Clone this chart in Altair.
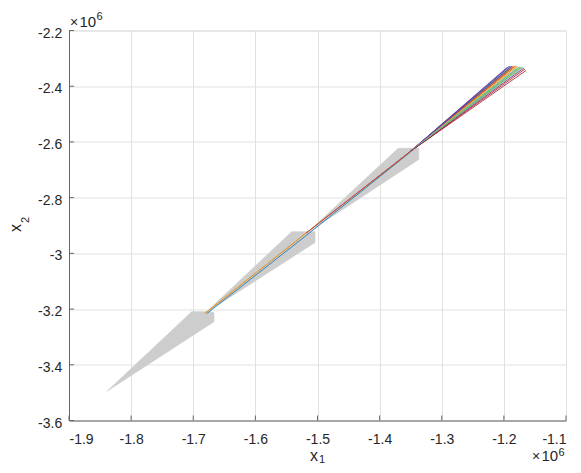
import altair as alt
import pandas as pd

# ---------------- data (values in units of 1e6) ----------------
X_TICKS = [-1.9, -1.8, -1.7, -1.6, -1.5, -1.4, -1.3, -1.2, -1.1]
Y_TICKS = [-3.6, -3.4, -3.2, -3.0, -2.8, -2.6, -2.4, -2.2]

# gray reachable-set polygons
POLY_ID = [1, 1, 1, 1, 1, 2, 2, 2, 2, 3, 3, 3, 3]
POLY_X = [-1.8383, -1.7025, -1.6730, -1.6666, -1.6666,
          -1.6811, -1.5415, -1.5040, -1.5040,
          -1.5174, -1.3700, -1.3370, -1.3370]
POLY_Y = [-3.4940, -3.2093, -3.2093, -3.2130, -3.2452,
          -3.2151, -2.9222, -2.9222, -2.9610,
          -2.9279, -2.6228, -2.6228, -2.6630]

# short trajectory segments between the polygons
SEG_X0 = [-1.6779, -1.6811, -1.6811, -1.5161, -1.5185, -1.5185]
SEG_Y0 = [-3.2158, -3.2151, -3.2151, -2.9322, -2.9274, -2.9274]
SEG_X1 = [-1.5161, -1.5185, -1.5185, -1.3500, -1.3511, -1.3511]
SEG_Y1 = [-2.9322, -2.9274, -2.9274, -2.6355, -2.6350, -2.6350]
SEG_COLOR = ["#0072BD", "#D95319", "#EDB120", "#0072BD", "#A2142F", "#D95319"]

# final fan of trajectories
FAN_X0 = -1.3511
FAN_Y0 = -2.6350
FAN_X1 = [-1.1869, -1.1853, -1.1821, -1.1918, -1.1740, -1.1692, -1.1676,
          -1.1901, -1.1805, -1.1789, -1.1950, -1.1757, -1.1708, -1.1660,
          -1.1885, -1.1837, -1.1773, -1.1869, -1.1724, -1.1789, -1.1644]
FAN_Y1 = [-2.3328, -2.3274, -2.3274, -2.3292, -2.3310, -2.3328, -2.3346,
          -2.3274, -2.3274, -2.3292, -2.3328, -2.3310, -2.3310, -2.3382,
          -2.3292, -2.3292, -2.3274, -2.3274, -2.3328, -2.3346, -2.3436]
MATLAB_COLORS = ["#0072BD", "#D95319", "#EDB120", "#7E2F8E",
                 "#77AC30", "#4DBEEE", "#A2142F"]

# ---------------- tables ----------------
poly_df = pd.DataFrame({
    "pid": POLY_ID, "x": POLY_X, "y": POLY_Y,
    "ord": list(range(len(POLY_X))),
})

rows = []
lid = 0
for x0, y0, x1, y1, c in zip(SEG_X0, SEG_Y0, SEG_X1, SEG_Y1, SEG_COLOR):
    rows.append({"lid": lid, "x": x0, "y": y0, "o": 0, "c": c})
    rows.append({"lid": lid, "x": x1, "y": y1, "o": 1, "c": c})
    lid += 1
for i, (x1, y1) in enumerate(zip(FAN_X1, FAN_Y1)):
    c = MATLAB_COLORS[i % len(MATLAB_COLORS)]
    rows.append({"lid": lid, "x": FAN_X0, "y": FAN_Y0, "o": 0, "c": c})
    rows.append({"lid": lid, "x": x1, "y": y1, "o": 1, "c": c})
    lid += 1
line_df = pd.DataFrame(rows)

W, H = 497, 390
FONT = "Liberation Sans"
AX = "#666666"
TXT = "#262626"

xs = alt.Scale(domain=[-1.9, -1.1], nice=False, zero=False)
ys = alt.Scale(domain=[-3.6, -2.2], nice=False, zero=False)

x_axis = alt.Axis(values=X_TICKS, title=None, grid=True, gridColor="#e1e1e1",
                  gridWidth=1, ticks=False, tickSize=0, domain=True,
                  domainColor=AX, domainWidth=1, labelFont=FONT,
                  labelFontSize=14, labelColor=TXT, labelPadding=11.7,
                  labelExpr="'' + datum.value")
y_axis = alt.Axis(values=Y_TICKS, title=None, grid=True, gridColor="#e1e1e1",
                  gridWidth=1, ticks=False, tickSize=0, domain=True,
                  domainColor=AX, domainWidth=1, labelFont=FONT,
                  labelFontSize=14, labelColor=TXT, labelPadding=7.3,
                  labelOffset=2.6, labelExpr="'' + datum.value")

polys = alt.Chart(poly_df).mark_line(
    interpolate="linear-closed", fill="#cdcdcd", stroke="#cdcdcd",
    strokeWidth=0.6, filled=True,
).encode(
    x=alt.X("x:Q", scale=xs, axis=x_axis),
    y=alt.Y("y:Q", scale=ys, axis=y_axis),
    detail="pid:N",
    order="ord:Q",
)

lines = alt.Chart(line_df).mark_line(strokeWidth=0.8).encode(
    x=alt.X("x:Q", scale=xs),
    y=alt.Y("y:Q", scale=ys),
    detail="lid:N",
    order="o:Q",
    color=alt.Color("c:N", scale=None),
)

xt = alt.Chart(pd.DataFrame({"v": X_TICKS})).mark_rule(
    color=AX, strokeWidth=1).encode(
    x=alt.X("v:Q", scale=xs), y=alt.value(H), y2=alt.value(H - 5))
yt = alt.Chart(pd.DataFrame({"v": Y_TICKS})).mark_rule(
    color=AX, strokeWidth=1).encode(
    y=alt.Y("v:Q", scale=ys), x=alt.value(0), x2=alt.value(5))

one = pd.DataFrame({"k": [0]})


def txt(s, px, py, size, angle=0, align="left"):
    m = dict(text=s, font=FONT, fontSize=size, color=TXT, align=align,
             baseline="alphabetic")
    if angle:
        m["angle"] = angle
    return alt.Chart(one).mark_text(**m).encode(x=alt.value(px), y=alt.value(py))


texts = [
    # x-axis title  x_1
    txt("x", 245, 430, 16, align="center"),
    txt("1", 253, 432, 11, align="center"),
    # y-axis title  x_2 (rotated)
    txt("x", -48, 197.5, 16, angle=270, align="center"),
    txt("2", -40.5, 189.5, 11, angle=270, align="center"),
    # exponent labels
    txt("\u00d7", 1, -4, 14),
    txt("10", 10.5, -4, 15),
    txt("6", 27.5, -10.5, 11),
    txt("\u00d7", 463, 430.5, 14),
    txt("10", 472.5, 430.5, 15),
    txt("6", 489.5, 425, 11),
]

chart = alt.layer(polys, lines, xt, yt, *texts).properties(
    width=W, height=H,
    padding={"left": 61, "top": 22.5, "right": 7, "bottom": 44.5},
    autosize=alt.AutoSizeParams(type="none"),
).configure_view(stroke=None).configure(background="white")

chart.save("out.html", embed_options={"renderer": "svg", "actions": False})
